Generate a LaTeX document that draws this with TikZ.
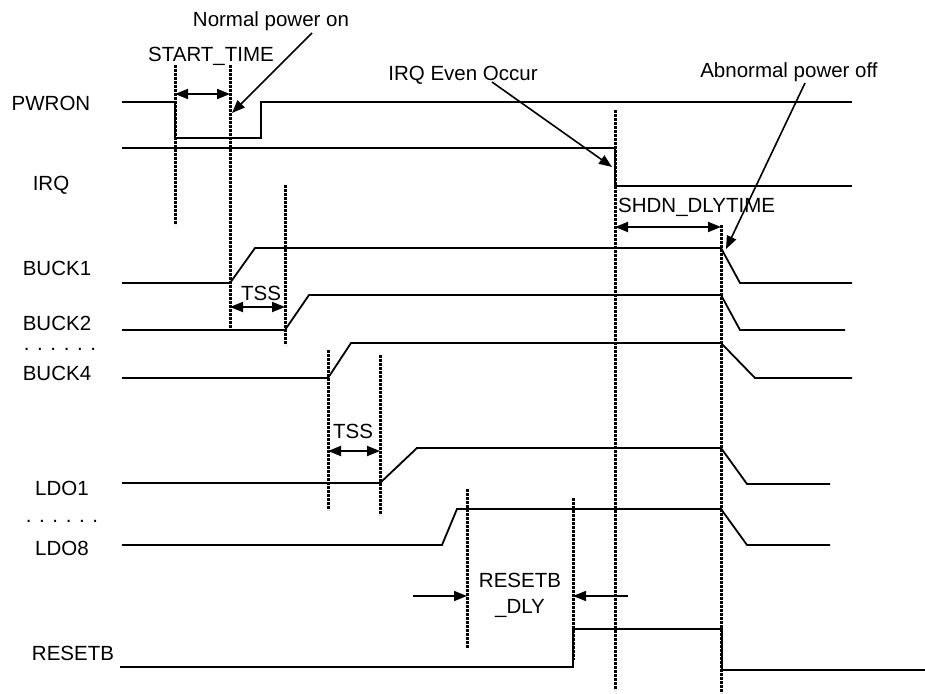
\documentclass[tikz,border=0pt]{standalone}
\usepackage{fontspec}
\setmainfont{Liberation Sans}
\usetikzlibrary{arrows.meta}
\tikzset{
  sig/.style={line width=1.8pt,line join=miter},
  guide/.style={line width=3pt,dash pattern=on 2.6pt off 1.4pt},
  dim/.style={{Triangle[length=13pt,width=10pt]}-{Triangle[length=13pt,width=10pt]},line width=1.8pt},
  ptr/.style={-{Triangle[length=13pt,width=10pt]},line width=1.6pt},
  lbl/.style={font=\fontsize{20.5}{26}\selectfont,inner sep=0pt,anchor=base}
}

\begin{document}
\begin{tikzpicture}[x=1pt,y=-1pt]
\useasboundingbox (0,0) rectangle (925,693);
% signal names
\node[lbl] (pwron) at (51,110) {PWRON};
\node[lbl] (irq) at (51,190) {IRQ};
\node[lbl] (buck1) at (57,275) {BUCK1};
\node[lbl] (buck2) at (57,330) {BUCK2};
\node[lbl] (bdots) at (60,350) {. . . . . .};
\node[lbl] (buck4) at (57,380) {BUCK4};
\node[lbl] (ldo1) at (62,495) {LDO1};
\node[lbl] (ldots) at (62,522) {. . . . . .};
\node[lbl] (ldo8) at (62,555) {LDO8};
\node[lbl] (resetb) at (73,660) {RESETB};
% waveforms
\draw[sig] (122,102)--(175,102)--(175,138)--(261,138)--(261,102)--(852,102);
\draw[sig] (122,148)--(615,148)--(615,186)--(852,186);
\draw[sig] (122,283)--(230,283)--(255,248)--(721,248)--(740,283)--(852,283);
\draw[sig] (122,330)--(285,330)--(309,295)--(721,295)--(740,330)--(845,330);
\draw[sig] (122,378)--(328,378)--(351,343)--(721,343)--(755,378)--(852,378);
\draw[sig] (122,483)--(380,483)--(417,448)--(721,448)--(747,484)--(830,484);
\draw[sig] (122,545)--(442,545)--(457,509)--(721,509)--(747,545)--(830,545);
\draw[sig] (120,667)--(573,667)--(573,629)--(722,629)--(722,670)--(925,670);
% timing marks
\draw[guide] (175,65)--(175,225);
\draw[guide] (230,65)--(230,330);
\draw[guide] (285,185)--(285,345);
\draw[guide] (328,350)--(328,510);
\draw[guide] (380,355)--(380,515);
\draw[guide] (467,489)--(467,648);
\draw[guide] (573,498)--(573,660);
\draw[guide] (615,110)--(615,690);
\draw[guide] (721,225)--(721,693);
% intervals
\coordinate (st0) at (175,94); \coordinate (st1) at (230,94);
\coordinate (ts0) at (230,307); \coordinate (ts1) at (285,307);
\coordinate (tl0) at (328,451); \coordinate (tl1) at (380,451);
\coordinate (sd0) at (615,227); \coordinate (sd1) at (721,227);
\coordinate (rd0) at (413,596); \coordinate (rd1) at (467,596);
\coordinate (rd2) at (628,596); \coordinate (rd3) at (573,596);
\draw[dim] (st0)--(st1);
\draw[dim] (ts0)--(ts1);
\draw[dim] (tl0)--(tl1);
\draw[dim] (sd0)--(sd1);
\draw[ptr] (rd0)--(rd1);
\draw[ptr] (rd2)--(rd3);
\node[lbl] (sttime) at (211,62) {START\_TIME};
\node[lbl] (tss1) at (261,300) {TSS};
\node[lbl] (tss2) at (353,438) {TSS};
\node[lbl,anchor=base west] (shdn) at (618,212) {SHDN\_DLYTIME};
\node[lbl,anchor=center,align=center] (rdly) at (520,595) {RESETB\\\_DLY};
% events
\node[lbl] (normal) at (271,27) {Normal power on};
\node[lbl] (irqev) at (463,80) {IRQ Even Occur};
\node[lbl] (abnorm) at (789,77) {Abnormal power off};
\coordinate (np0) at (312,33); \coordinate (np1) at (232,113);
\coordinate (iq0) at (492,82); \coordinate (iq1) at (612,167);
\coordinate (ab0) at (805,83); \coordinate (ab1) at (726,249);
\draw[ptr] (np0)--(np1);
\draw[ptr] (iq0)--(iq1);
\draw[ptr] (ab0)--(ab1);
\end{tikzpicture}
\end{document}
